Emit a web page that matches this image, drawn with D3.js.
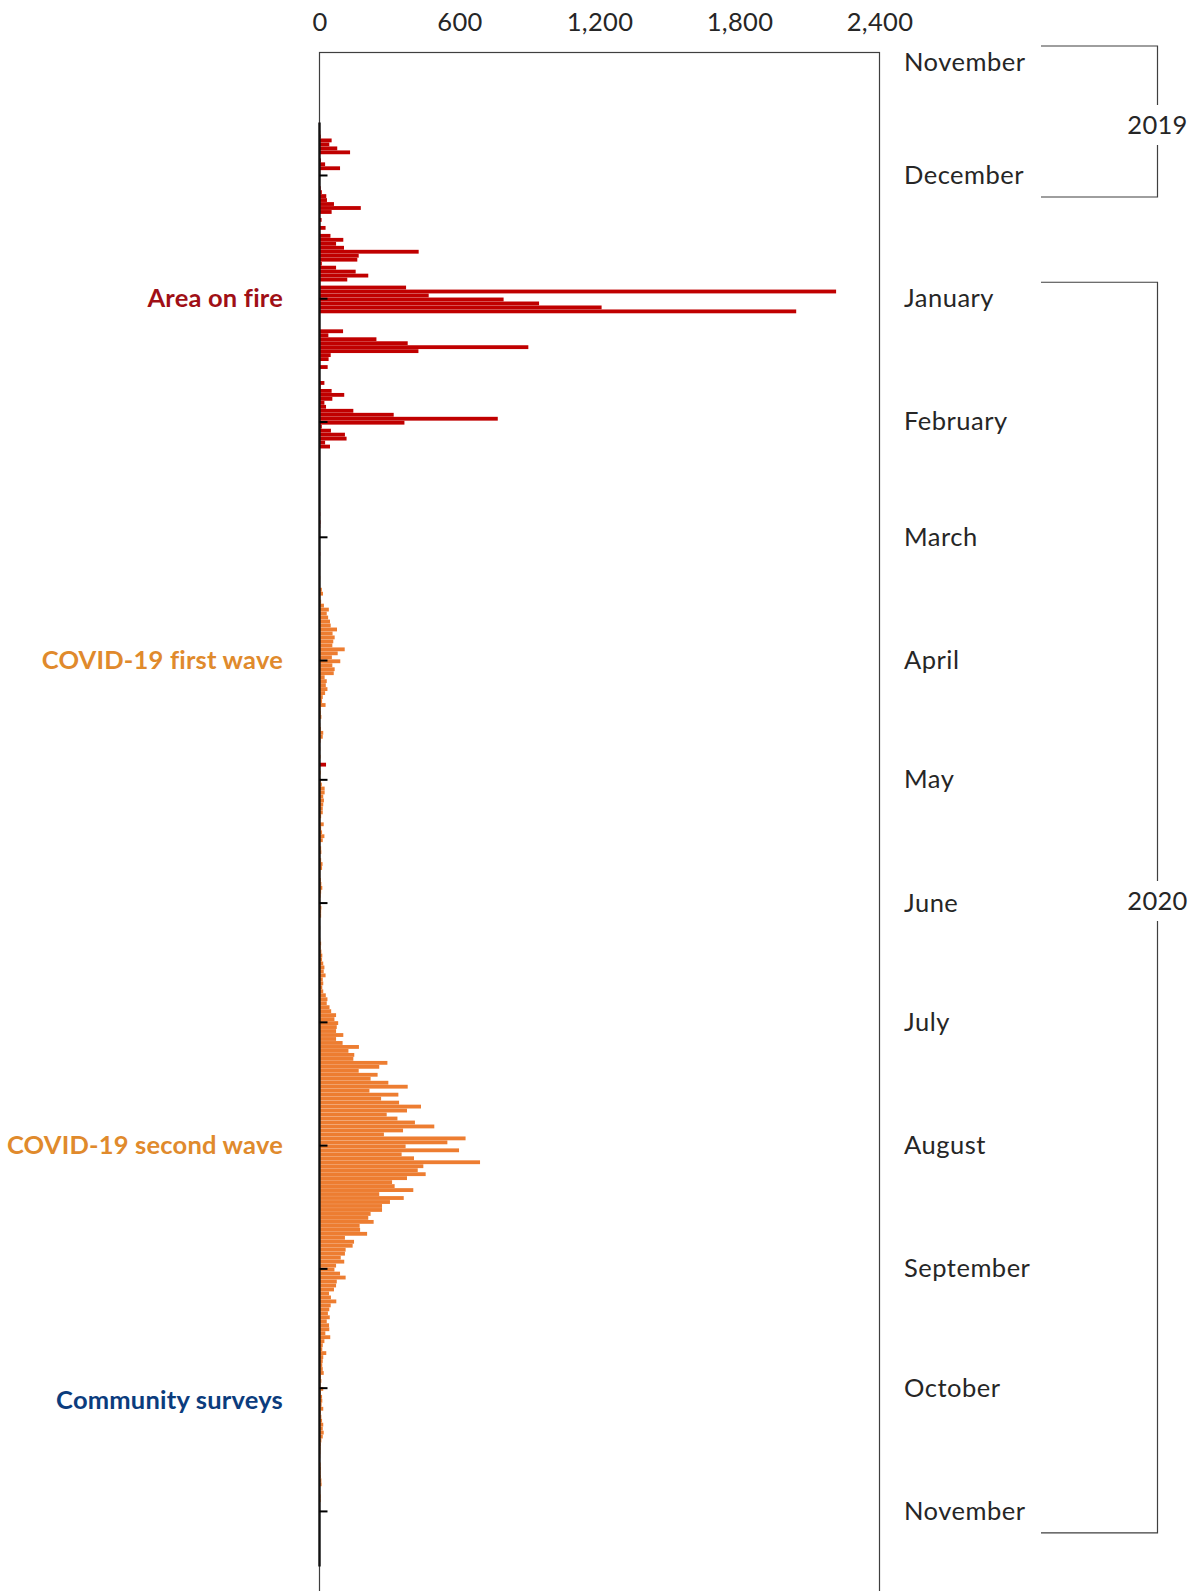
<!DOCTYPE html>
<html>
<head>
<meta charset="utf-8">
<script src="https://cdn.jsdelivr.net/npm/d3@7"></script>
<style>
  body { margin: 0; background: #fff; }
  text { font-family: Lato, "Open Sans", sans-serif; }
</style>
</head>
<body>
<div id="chart"></div>
<script>
// daily values
var fireStart = "2019-11-18";
var fireValues = [
  1, 2, 3, 5, 52, 42, 76, 131, 0, 6, 24, 88, 3,
  2, 2, 2, 5, 10, 29, 32, 62, 177, 52, 2, 9, 1, 26, 2, 47, 102, 71, 105, 425, 168, 162, 10, 71, 155, 209, 119, 3, 371, 2214, 468,
  789, 941, 1209, 2043, 1, 0, 0, 2, 101, 38, 244, 378, 895, 424, 48, 39, 2, 35, 1, 0, 0, 21, 5, 52, 106, 55, 21, 28, 145, 318, 764,
  364, 10, 49, 109, 116, 24, 45, 2, 1, 0, 1, 0, 0, 1, 0, 0, 0, 1, 0, 0, 0, 2, 1, 3, 2, 4, 3, 2, 1,
  1, 0, 0, 2, 3, 1, 2, 1, 0, 0, 0, 0, 0, 0, 0, 0, 0, 0, 0, 0, 0, 0, 0, 0, 0, 0, 0, 0, 0, 0, 0,
  0, 0, 0, 0, 0, 0, 0, 0, 0, 0, 0, 0, 0, 0, 0, 0, 0, 0, 0, 2, 3, 2, 1, 0, 0, 0, 28, 0, 0, 0,
  0, 1, 3, 1, 0
];

var covidStart = "2020-03-05";
var covidValues = [
  1, 0, 1, 1, 2, 1, 3, 2,
  2, 10, 15, 3, 7, 19, 40, 31, 37, 45, 48, 75, 56, 65, 59, 55, 108, 78, 53, 89,
  55, 65, 61, 22, 31, 27, 34, 24, 14, 11, 26, 5, 6, 8, 2, 3, 6, 16, 14, 3,
  2, 3, 2, 4, 2, 2, 3, 5, 3, 6,
  10, 22, 22, 16, 19, 16, 14, 14, 7, 3, 18, 7, 11, 21, 14, 3, 7, 8, 3, 7, 13, 11, 3, 3, 6, 8, 12, 7, 5, 3,
  4, 8, 7, 7, 2, 1, 3, 1, 0, 3, 7, 5, 8, 12, 11, 16, 21, 18, 26, 14, 16, 12, 16, 27, 34, 31, 43, 50, 71, 64, 80, 74, 71,
  102, 71, 99, 169, 124, 149, 145, 291, 256, 168, 249, 219, 295, 378, 214, 338, 264, 341, 435, 375, 288, 334, 409, 492, 358, 276, 626, 548,
  369, 598, 352, 405, 688, 445, 421, 455, 375, 311, 322, 402, 256, 361, 302, 268, 268, 219, 209, 232, 172, 174, 204, 109, 148, 142, 112, 109, 91, 106, 71,
  64, 88, 112, 74, 71, 62, 41, 49, 72, 48, 42, 36, 44, 31, 41, 42, 25, 46, 21, 14, 12, 29, 16, 14, 12, 14, 18, 6, 8, 5,
  16, 6, 11, 12, 9, 16, 6, 8, 11, 16, 14, 18, 14, 8, 6, 5, 4, 3, 2, 5, 6, 5, 6, 8, 9, 2, 3, 5, 5, 2, 1,
  1, 0, 1, 0, 0, 1, 0, 0, 1, 0, 0, 0, 0, 0
];

var xTicks = [0, 600, 1200, 1800, 2400];
var monthLabels = ["November", "December", "January", "February", "March", "April", "May",
                   "June", "July", "August", "September", "October", "November"];
var yearLabels = ["2019", "2020"];
var seriesLabels = ["Area on fire", "COVID-19 first wave", "COVID-19 second wave", "Community surveys"];
var seriesLabelDates = ["2020-01-01", "2020-04-01", "2020-08-01", "2020-10-04"];

var W = 1194, H = 1591;
var fontSize = 25.5;
var parse = d3.utcParse("%Y-%m-%d");
var day = 24 * 3600 * 1000;

var svg = d3.select("#chart").append("svg")
    .attr("width", W)
    .attr("height", H);

var x = d3.scaleLinear().domain([0, 2400]).range([319.5, 879.5]);
var y = d3.scaleUtc()
    .domain([Date.UTC(2019, 10, 1), Date.UTC(2020, 10, 1)])
    .range([55.7, 55.7 + 3.976 * 366]);
var step = y(new Date(Date.UTC(2020, 0, 2))) - y(new Date(Date.UTC(2020, 0, 1)));

function toDays(start, values) {
  var s = parse(start);
  return values.map(function(v, i) { return {date: new Date(+s + i * day), value: v}; });
}
var fire = toDays(fireStart, fireValues);
var covid = toDays(covidStart, covidValues);

// plot frame
svg.append("rect")
    .attr("x", x(0))
    .attr("y", 52.5)
    .attr("width", x(2400) - x(0))
    .attr("height", H)
    .attr("fill", "none")
    .attr("stroke", "#3f3f3f")
    .attr("stroke-width", 1.2);

// bars
svg.append("g").selectAll("rect")
    .data(covid)
  .enter().append("rect")
    .attr("x", x(0))
    .attr("y", function(d) { return y(d.date) - 0.7; })
    .attr("width", function(d) { return x(d.value) - x(0); })
    .attr("height", step - 0.15)
    .attr("fill", "#ED7D31");

svg.append("g").selectAll("rect")
    .data(fire)
  .enter().append("rect")
    .attr("x", x(0))
    .attr("y", function(d) { return y(d.date) - 0.7; })
    .attr("width", function(d) { return x(d.value) - x(0); })
    .attr("height", step - 0.15)
    .attr("fill", "#C00000");

// date axis line and month ticks
var firstDate = fire[0].date, lastDate = covid[covid.length - 1].date;
svg.append("line")
    .attr("x1", x(0)).attr("x2", x(0))
    .attr("y1", y(firstDate) - 0.7)
    .attr("y2", y(lastDate) + step)
    .attr("stroke", "#111")
    .attr("stroke-width", 2.4);

var months = d3.utcMonth.range(Date.UTC(2019, 10, 1), Date.UTC(2020, 10, 2));
svg.append("g")
    .attr("transform", "translate(" + x(0) + ",0)")
    .call(d3.axisRight(y).tickValues(months.slice(1)).tickSize(8).tickFormat(""))
    .call(function(g) { g.select(".domain").remove(); })
    .selectAll("line").attr("stroke", "#000").attr("stroke-width", 2);

// value axis on top
svg.append("g")
    .attr("transform", "translate(0,31)")
    .call(d3.axisTop(x).tickValues(xTicks).tickSize(0).tickPadding(0).tickFormat(d3.format(",")))
    .call(function(g) {
      g.select(".domain").remove();
      g.selectAll("text")
        .attr("font-family", "Lato, 'Open Sans', sans-serif")
        .attr("font-size", fontSize)
        .attr("letter-spacing", 0.3)
        .attr("fill", "#262626");
    });

// month labels (the first one sits a little lower, clear of the top edge)
function labelY(d) { return Math.max(y(d), 62); }
svg.append("g").selectAll("text")
    .data(months)
  .enter().append("text")
    .attr("x", 904)
    .attr("y", labelY)
    .attr("dy", "0.35em")
    .attr("font-size", fontSize)
    .attr("letter-spacing", 0.5)
    .attr("fill", "#262626")
    .text(function(d, i) { return monthLabels[i]; });

// year brackets
var yearSpans = [[months[0], months[1]], [months[2], months[12]]];
var yearMids = [125, 901];
yearSpans.forEach(function(span, i) {
  var top = labelY(span[0]) - 16, bottom = labelY(span[1]) + 22;
  var mid = yearMids[i], bx = 1157.5;
  svg.append("path")
      .attr("d", "M1041," + top + "H" + bx + "V" + (mid - 20) +
                 "M" + bx + "," + (mid + 20) + "V" + bottom + "H1041")
      .attr("fill", "none")
      .attr("stroke", "#3f3f3f")
      .attr("stroke-width", 1.2);
  svg.append("text")
      .attr("x", bx)
      .attr("y", mid)
      .attr("dy", "0.35em")
      .attr("text-anchor", "middle")
      .attr("font-size", fontSize)
      .attr("letter-spacing", 0.3)
      .attr("fill", "#262626")
      .text(yearLabels[i]);
});

// series labels on the left
var labelColors = ["#A00F16", "#E08A2C", "#E08A2C", "#0B3C7D"];
svg.append("g").selectAll("text")
    .data(seriesLabels)
  .enter().append("text")
    .attr("x", 283)
    .attr("y", function(d, i) { return y(parse(seriesLabelDates[i])); })
    .attr("dy", "0.35em")
    .attr("text-anchor", "end")
    .attr("font-size", fontSize)
    .attr("font-weight", "bold")
    .attr("letter-spacing", 0.2)
    .attr("fill", function(d, i) { return labelColors[i]; })
    .text(function(d) { return d; });
</script>
</body>
</html>
